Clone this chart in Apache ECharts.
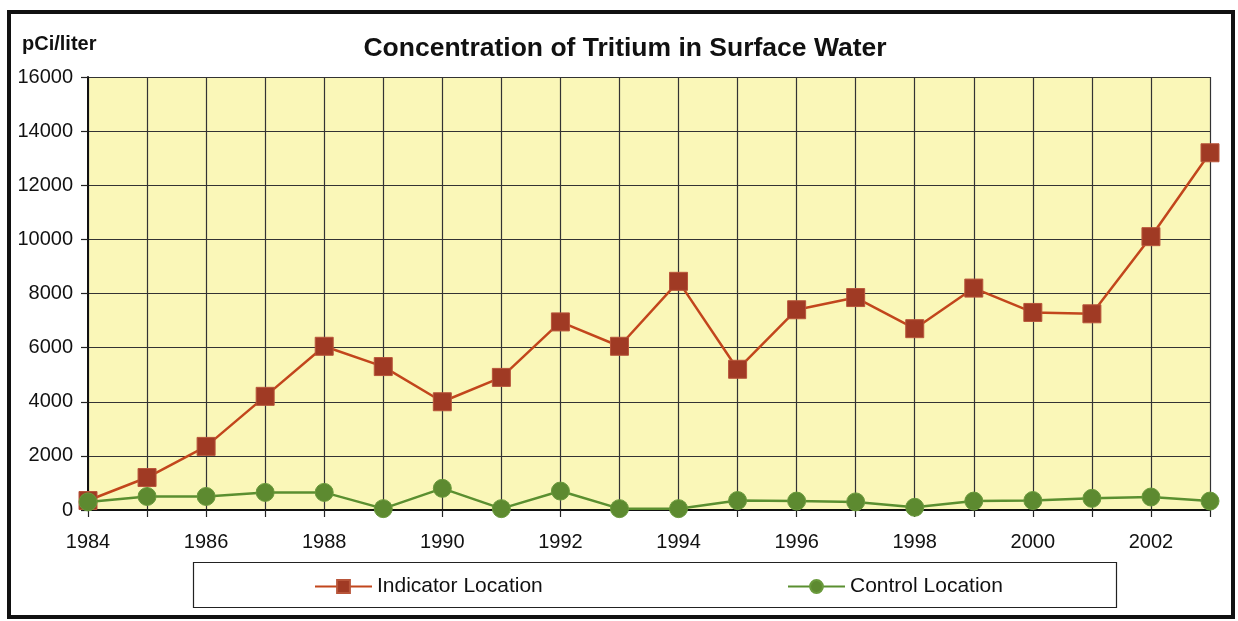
<!DOCTYPE html>
<html>
<head>
<meta charset="utf-8">
<script src="https://cdn.jsdelivr.net/npm/echarts@6/dist/echarts.min.js"></script>
<style>
  html, body { margin: 0; padding: 0; background: #ffffff; }
  #chart { width: 1238px; height: 621px; }
</style>
</head>
<body>
<div id="chart"></div>
<script>
const years = ['1984','1985','1986','1987','1988','1989','1990','1991','1992','1993',
               '1994','1995','1996','1997','1998','1999','2000','2001','2002','2003'];
const indicatorLocation = [350, 1200, 2350, 4200, 6050, 5300, 4000, 4900, 6950, 6050,
                           8450, 5200, 7400, 7850, 6700, 8200, 7300, 7250, 10100, 13200];
const controlLocation = [300, 500, 500, 650, 650, 50, 800, 50, 700, 50,
                         50, 350, 330, 300, 100, 330, 350, 430, 480, 330];
const yTicks = { min: 0, max: 16000, interval: 2000 };

const chart = echarts.init(document.getElementById('chart'), null, { renderer: 'canvas' });
const FONT = '"Liberation Sans", Arial, sans-serif';

chart.setOption({
  backgroundColor: '#ffffff',
  animation: false,
  grid: { left: 88, right: 28, top: 77, bottom: 111, show: true, backgroundColor: '#faf7b8', borderWidth: 0 },
  graphic: [
    { type: 'rect', shape: { x: 9, y: 12, width: 1224, height: 605 }, style: { fill: 'none', stroke: '#111', lineWidth: 4 }, z: 100 },
    { type: 'text', x: 22, y: 34, style: { text: 'pCi/liter', font: 'bold 20px ' + FONT, fill: '#111' } },
    { type: 'text', x: 625, y: 35, style: { text: 'Concentration of Tritium in Surface Water', font: 'bold 26.5px ' + FONT, fill: '#111', textAlign: 'center' } },
    { type: 'rect', shape: { x: 193.5, y: 562.5, width: 923, height: 45 }, style: { fill: 'none', stroke: '#222', lineWidth: 1.2 } }
  ],
  legend: [
    { data: ['Indicator Location'], left: 309, top: 571, itemWidth: 57, itemHeight: 16, textStyle: { fontSize: 21, fontFamily: FONT, color: '#111' } },
    { data: ['Control Location'], left: 782, top: 571, itemWidth: 57, itemHeight: 16, textStyle: { fontSize: 21, fontFamily: FONT, color: '#111' } }
  ],
  xAxis: {
    type: 'category',
    data: years,
    boundaryGap: false,
    axisLine: { show: true, lineStyle: { color: '#111', width: 2 } },
    axisTick: { show: true, interval: 0, length: 7, lineStyle: { color: '#222', width: 1.2 } },
    axisLabel: { interval: 1, fontSize: 20, fontFamily: FONT, color: '#111', margin: 22 },
    splitLine: { show: true, interval: 0, lineStyle: { color: '#333', width: 1.2 } }
  },
  yAxis: {
    type: 'value',
    min: yTicks.min, max: yTicks.max, interval: yTicks.interval,
    axisLine: { show: true, lineStyle: { color: '#111', width: 2 } },
    axisTick: { show: true, length: 7, lineStyle: { color: '#222', width: 1.2 } },
    axisLabel: { fontSize: 20, fontFamily: FONT, color: '#111', margin: 15, formatter: v => String(v) },
    splitLine: { show: true, lineStyle: { color: '#333', width: 1.2 } }
  },
  series: [
    {
      name: 'Indicator Location', type: 'line', data: indicatorLocation,
      symbol: 'rect', symbolSize: 18,
      lineStyle: { color: '#c2461c', width: 2.5 },
      itemStyle: { color: '#a03a24', borderColor: '#b8553a', borderWidth: 1 },
      z: 3
    },
    {
      name: 'Control Location', type: 'line', data: controlLocation,
      symbol: 'circle', symbolSize: 18,
      lineStyle: { color: '#5a8f30', width: 2.5 },
      itemStyle: { color: '#5d8a30', borderColor: '#6a9a3c', borderWidth: 1 },
      z: 4
    }
  ]
});
</script>
</body>
</html>
